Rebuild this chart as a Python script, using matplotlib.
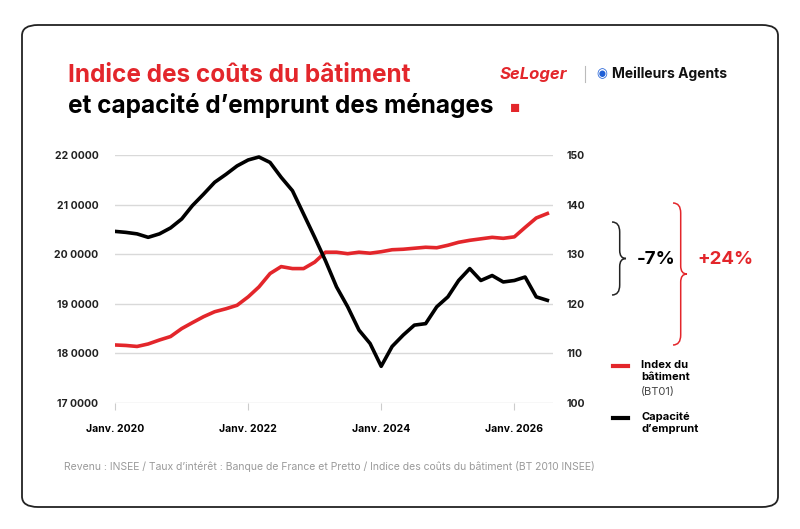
import matplotlib
matplotlib.use("Agg")
import matplotlib.pyplot as plt
from matplotlib.patches import FancyBboxPatch, PathPatch
from matplotlib.path import Path
import pandas as pd

plt.rcParams['font.family'] = ['Inter', 'DejaVu Sans']

# Données (tous les 2 mois, janv. 2020 -> juil. 2026)
dates = pd.date_range("2020-01-01", periods=40, freq="2MS")
index_batiment = [18.17, 18.16, 18.14, 18.19, 18.27, 18.34, 18.50, 18.62, 18.74, 18.84,
                  18.90, 18.97, 19.14, 19.34, 19.61, 19.75, 19.71, 19.71, 19.84, 20.04,
                  20.04, 20.01, 20.04, 20.02, 20.05, 20.09, 20.10, 20.12, 20.14, 20.13,
                  20.18, 20.24, 20.28, 20.31, 20.34, 20.32, 20.35, 20.54, 20.73, 20.82]
capacite = [134.6, 134.4, 134.1, 133.4, 134.1, 135.3, 137.1, 139.8, 142.1, 144.5,
            146.1, 147.8, 149.0, 149.6, 148.5, 145.5, 142.8, 138.1, 133.4, 128.7,
            123.4, 119.4, 114.7, 112.0, 107.4, 111.4, 113.7, 115.7, 116.0, 119.4,
            121.4, 124.7, 127.1, 124.7, 125.7, 124.4, 124.7, 125.4, 121.4, 120.7]
left_ticks = [17, 18, 19, 20, 21, 22]
left_labels = ["17 0000", "18 0000", "19 0000", "20 0000", "21 0000", "22 0000"]
right_ticks = [100, 110, 120, 130, 140, 150]
x_ticks = pd.to_datetime(["2020-01-01", "2022-01-01", "2024-01-01", "2026-01-01"])
x_labels = ["Janv. 2020", "Janv. 2022", "Janv. 2024", "Janv. 2026"]

RED = "#e3262b"
fig = plt.figure(figsize=(8, 5.29), dpi=100)
fig.patch.set_facecolor("white")
card = FancyBboxPatch((22/800, 22/529), 756/800, 482/529, boxstyle="round,pad=0,rounding_size=0.02",
                      transform=fig.transFigure, fc="white", ec="#222222", lw=1.3, zorder=-10)
fig.patches.append(card)

ax = fig.add_axes([115/800, 1-403/529, 438/800, 248/529])
ax.patch.set_alpha(0)
ax2 = ax.twinx()
ax.plot(dates, index_batiment, color=RED, lw=2.6, zorder=3)
ax2.plot(dates, capacite, color="black", lw=2.6, zorder=3)
ax.set_ylim(17, 22)
ax2.set_ylim(100, 150)
ax.set_xlim(pd.Timestamp("2020-01-01"), pd.Timestamp("2026-08-01"))
ax.set_yticks(left_ticks)
ax.set_yticklabels(left_labels)
ax2.set_yticks(right_ticks)
ax.set_xticks(x_ticks)
ax.set_xticklabels(x_labels)
ax.grid(axis="y", color="#d9d9d9", lw=1)
for a in (ax, ax2):
    for s in a.spines.values():
        s.set_visible(False)
    a.tick_params(axis="y", length=0, labelsize=7.5, colors="#222222")
    for t in a.get_yticklabels():
        t.set_fontweight("bold")
ax.tick_params(axis="y", pad=12)
ax.tick_params(axis="x", length=5, color="#cccccc", labelsize=7.5, pad=10)
for t in ax.get_xticklabels():
    t.set_fontweight("bold")
ax2.tick_params(axis="y", pad=10)

# Titre
fig.text(68/800, 1-75/529, "Indice des coûts du bâtiment", color=RED, fontsize=17.5, fontweight="bold", va="center")
fig.text(68/800, 1-105/529, "et capacité d’emprunt des ménages", color="black", fontsize=17.5, fontweight="bold", va="center")
fig.text(510/800, 1-109/529, "■", color=RED, fontsize=8, va="center")
fig.text(500/800, 1-74/529, "SeLoger", color=RED, fontsize=12, fontweight="bold", style="italic", va="center")
fig.add_artist(plt.Line2D([585/800, 585/800], [1-66/529, 1-82/529], color="#bbbbbb", lw=0.8))
fig.text(596/800, 1-74/529, "◉", color="#1f5fd6", fontsize=9, va="center")
fig.text(612/800, 1-74/529, "Meilleurs Agents", color="#111111", fontsize=10, fontweight="bold", va="center")

def brace(x0, y0, y1, w, color, lw):
    # accolade vers la droite, coordonnées en pixels
    ym = (y0 + y1) / 2
    xm = x0 + w * 0.55
    verts = [(x0, y0), (xm, y0), (xm, y0 + 10), (xm, ym - 8), (xm, ym), (x0 + w, ym),
             (x0 + w, ym), (xm, ym), (xm, ym + 8), (xm, y1 - 10), (xm, y1), (x0, y1)]
    verts = [(x/800, 1 - y/529) for x, y in verts]
    codes = [Path.MOVETO, Path.CURVE3, Path.CURVE3, Path.LINETO, Path.CURVE3, Path.CURVE3,
             Path.MOVETO, Path.CURVE3, Path.CURVE3, Path.LINETO, Path.CURVE3, Path.CURVE3]
    fig.patches.append(PathPatch(Path(verts, codes), transform=fig.transFigure, fc="none", ec=color, lw=lw))

brace(612, 222, 295, 14, "#222222", 1.1)
brace(673, 203, 345, 14, RED, 1.1)
fig.text(637/800, 1-259/529, "-7%", fontsize=13.5, fontweight="bold", va="center")
fig.text(697/800, 1-259/529, "+24%", fontsize=13.5, fontweight="bold", color=RED, va="center")

# Légende
fig.add_artist(plt.Line2D([613/800, 628/800], [1-366/529]*2, color=RED, lw=3))
fig.text(641/800, 1-360/529, "Index du\nbâtiment", fontsize=8, fontweight="bold", va="top", linespacing=1.2)
fig.text(641/800, 1-392/529, "(BT01)", fontsize=8, color="#444444", va="center")
fig.add_artist(plt.Line2D([613/800, 628/800], [1-418/529]*2, color="black", lw=3))
fig.text(641/800, 1-412/529, "Capacité\nd’emprunt", fontsize=8, fontweight="bold", va="top", linespacing=1.2)

fig.text(64/800, 1-467/529, "Revenu : INSEE / Taux d’intérêt : Banque de France et Pretto / Indice des coûts du bâtiment (BT 2010 INSEE)",
         fontsize=7.5, color="#9a9a9a", va="center")

fig.savefig("out.png", dpi=100)
